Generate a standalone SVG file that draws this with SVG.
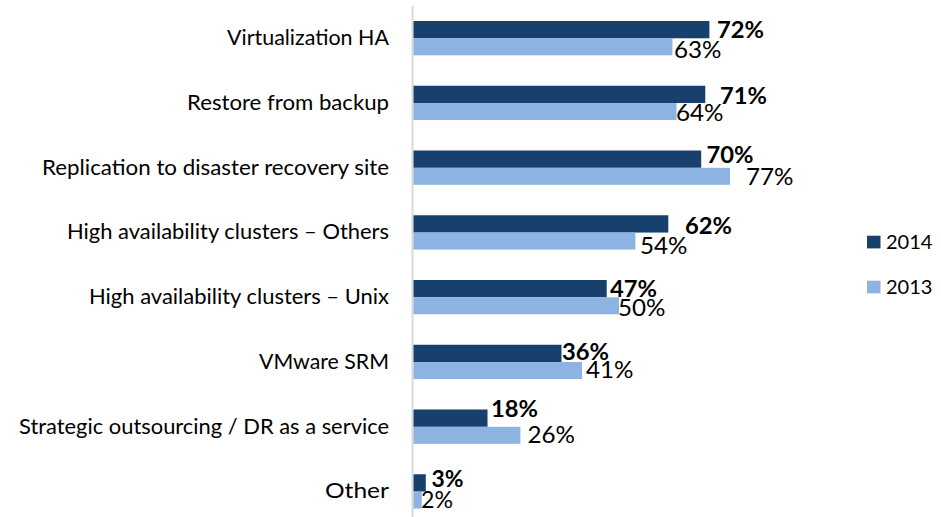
<svg xmlns="http://www.w3.org/2000/svg" width="941" height="517" viewBox="0 0 941 517">
  <style>
    text { font-family: Lato, "Liberation Sans", Arial, sans-serif; fill: #000; }
    .cat { font-size: 21px; text-anchor: end; }
    .v14 { font-size: 22.5px; font-weight: bold; }
    .v13 { font-size: 22.5px; }
    .leg { font-size: 20px; }
    .b14 { fill: #17406D; }
    .b13 { fill: #8DB3E2; }
    .axis { stroke: #D9D9D9; stroke-width: 2; }
  </style>
  <rect width="941" height="517" fill="#FFFFFF"/>

  <!-- category axis -->
  <g id="axis">
    <line class="axis" x1="412.5" y1="6" x2="412.5" y2="517"/>
  </g>

  <!-- category labels -->
  <g id="categories">
    <text class="cat" x="389" y="45" textLength="162" lengthAdjust="spacingAndGlyphs">Virtualization HA</text>
    <text class="cat" x="389" y="109.75" textLength="202" lengthAdjust="spacingAndGlyphs">Restore from backup</text>
    <text class="cat" x="389" y="174.5" textLength="347" lengthAdjust="spacingAndGlyphs">Replication to disaster recovery site</text>
    <text class="cat" x="389" y="239.25" textLength="322" lengthAdjust="spacingAndGlyphs">High availability clusters – Others</text>
    <text class="cat" x="389" y="304" textLength="300" lengthAdjust="spacingAndGlyphs">High availability clusters – Unix</text>
    <text class="cat" x="389" y="368.75" textLength="130" lengthAdjust="spacingAndGlyphs">VMware SRM</text>
    <text class="cat" x="389" y="433.5" textLength="370" lengthAdjust="spacingAndGlyphs">Strategic outsourcing / DR as a service</text>
    <text class="cat" x="389" y="498.25" textLength="64" lengthAdjust="spacingAndGlyphs">Other</text>
  </g>

  <!-- 2014 series -->
  <g id="series-2014">
    <rect class="b14" x="413.5" y="21" width="295.9" height="17.3"/>
    <rect class="b14" x="413.5" y="85.75" width="291.8" height="17.3"/>
    <rect class="b14" x="413.5" y="150.5" width="287.7" height="17.3"/>
    <rect class="b14" x="413.5" y="215.25" width="254.8" height="17.3"/>
    <rect class="b14" x="413.5" y="280" width="193.2" height="17.3"/>
    <rect class="b14" x="413.5" y="344.75" width="148" height="17.3"/>
    <rect class="b14" x="413.5" y="409.5" width="74" height="17.3"/>
    <rect class="b14" x="413.5" y="474.25" width="12.3" height="17.3"/>
  </g>

  <!-- 2013 series -->
  <g id="series-2013">
    <rect class="b13" x="413.5" y="38.3" width="258.9" height="17"/>
    <rect class="b13" x="413.5" y="103.05" width="263" height="17"/>
    <rect class="b13" x="413.5" y="167.8" width="316.5" height="17"/>
    <rect class="b13" x="413.5" y="232.55" width="221.9" height="17"/>
    <rect class="b13" x="413.5" y="297.3" width="205.5" height="17"/>
    <rect class="b13" x="413.5" y="362.05" width="168.5" height="17"/>
    <rect class="b13" x="413.5" y="426.8" width="106.9" height="17"/>
    <rect class="b13" x="413.5" y="491.55" width="8.2" height="17"/>
  </g>

  <!-- data labels, 2014 -->
  <g id="labels-2014">
    <text class="v14" x="717" y="38" textLength="47" lengthAdjust="spacingAndGlyphs">72%</text>
    <text class="v14" x="720" y="104.3" textLength="47" lengthAdjust="spacingAndGlyphs">71%</text>
    <text class="v14" x="706.5" y="162.7" textLength="47" lengthAdjust="spacingAndGlyphs">70%</text>
    <text class="v14" x="685" y="234.3" textLength="47" lengthAdjust="spacingAndGlyphs">62%</text>
    <text class="v14" x="610" y="296.7" textLength="47" lengthAdjust="spacingAndGlyphs">47%</text>
    <text class="v14" x="562" y="360" textLength="47" lengthAdjust="spacingAndGlyphs">36%</text>
    <text class="v14" x="491" y="416.7" textLength="47" lengthAdjust="spacingAndGlyphs">18%</text>
    <text class="v14" x="431.5" y="486.7" textLength="32" lengthAdjust="spacingAndGlyphs">3%</text>
  </g>

  <!-- data labels, 2013 -->
  <g id="labels-2013">
    <text class="v13" x="674" y="57.7" textLength="47.5" lengthAdjust="spacingAndGlyphs">63%</text>
    <text class="v13" x="676" y="121" textLength="47.5" lengthAdjust="spacingAndGlyphs">64%</text>
    <text class="v13" x="746" y="185" textLength="47.5" lengthAdjust="spacingAndGlyphs">77%</text>
    <text class="v13" x="640" y="254" textLength="47.5" lengthAdjust="spacingAndGlyphs">54%</text>
    <text class="v13" x="618" y="316" textLength="47.5" lengthAdjust="spacingAndGlyphs">50%</text>
    <text class="v13" x="586" y="378" textLength="47.5" lengthAdjust="spacingAndGlyphs">41%</text>
    <text class="v13" x="527.5" y="443.3" textLength="47.5" lengthAdjust="spacingAndGlyphs">26%</text>
    <text class="v13" x="421" y="508.3" textLength="32" lengthAdjust="spacingAndGlyphs">2%</text>
  </g>

  <!-- legend -->
  <g id="legend">
    <rect class="b14" x="867" y="235.7" width="13.5" height="12.7"/>
    <text class="leg" x="886" y="249" textLength="46.5" lengthAdjust="spacingAndGlyphs">2014</text>
    <rect class="b13" x="867" y="280.7" width="13.5" height="12.7"/>
    <text class="leg" x="886" y="294" textLength="46.5" lengthAdjust="spacingAndGlyphs">2013</text>
  </g>
</svg>
